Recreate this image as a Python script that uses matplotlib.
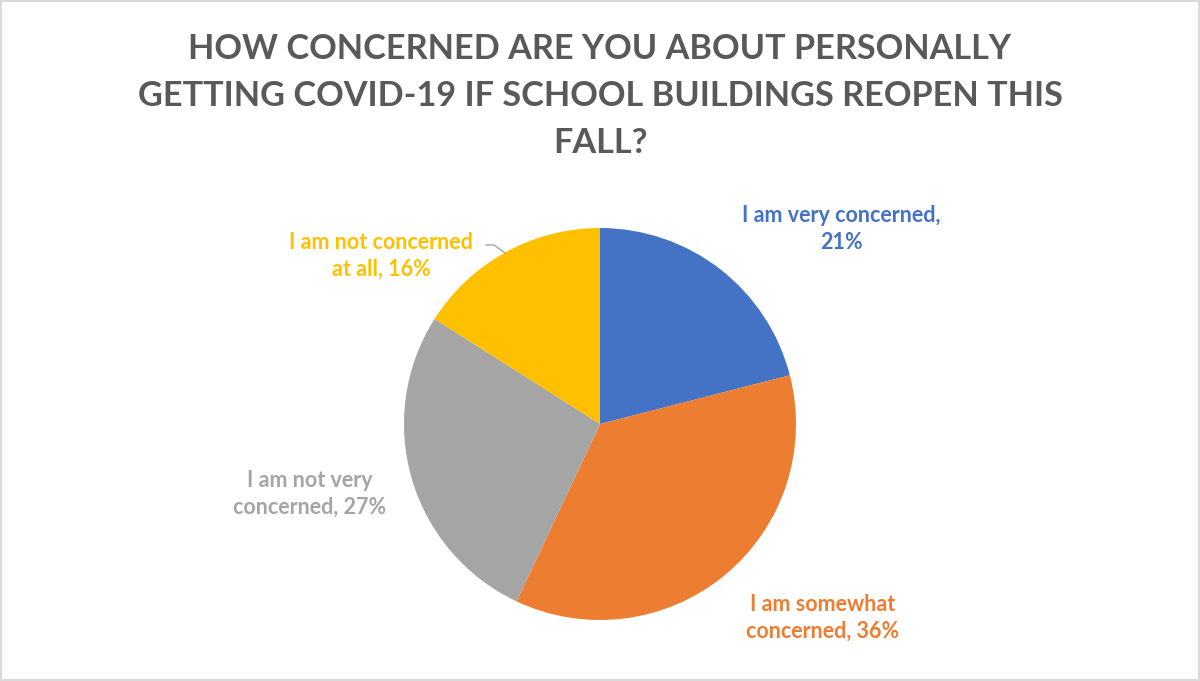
#!/usr/bin/env python3

import matplotlib
matplotlib.use("Agg")
import matplotlib.pyplot as plt
from matplotlib.patches import Rectangle

categories = ["I am very concerned", "I am somewhat concerned",
              "I am not very concerned", "I am not concerned at all"]
shares = [21, 36, 27, 16]
label_texts = ["I am very concerned,\n21%",
               "I am somewhat\nconcerned, 36%",
               "I am not very\nconcerned, 27%",
               "I am not concerned\nat all, 16%"]
colors = ["#4472C4", "#ED7D31", "#A5A5A5", "#FFC000"]
title = ("HOW CONCERNED ARE YOU ABOUT PERSONALLY\n"
         "GETTING COVID-19 IF SCHOOL BUILDINGS REOPEN THIS\n"
         "FALL?")

plt.rcParams['font.family'] = ['Lato', 'DejaVu Sans']

W, H = 1200, 681
fig = plt.figure(figsize=(W / 100, H / 100), dpi=100)
ax = fig.add_axes([0, 0, 1, 1])

# pie in pixel coordinates (y measured from bottom)
ax.pie(shares, colors=colors, startangle=90, counterclock=False,
       center=(600, H - 424), radius=196, frame=True)
ax.set_xlim(0, W)
ax.set_ylim(0, H)
ax.set_aspect("equal")
ax.axis("off")

# data labels (pixel positions of label centres, y from top)
label_pos = [(841, 229), (823, 618), (310, 494), (381, 256)]
for txt, col, (lx, ly) in zip(label_texts, colors, label_pos):
    ax.text(lx, H - ly, txt, color=col, fontsize=15.5, fontweight="bold",
            ha="center", va="center", linespacing=1.37)

# leader line for the small yellow label
ax.plot([486, 494, 505], [H - 245, H - 245, H - 253], color="#A6A6A6", lw=1)

ax.text(600, H - 96, title, color="#595959", fontsize=24.7, fontweight="bold",
        ha="center", va="center", linespacing=1.58)

ax.add_patch(Rectangle((1, 1), W - 2, H - 2, fill=False,
                       edgecolor="#D9D9D9", lw=1.5))

fig.savefig("out.png", dpi=100)
